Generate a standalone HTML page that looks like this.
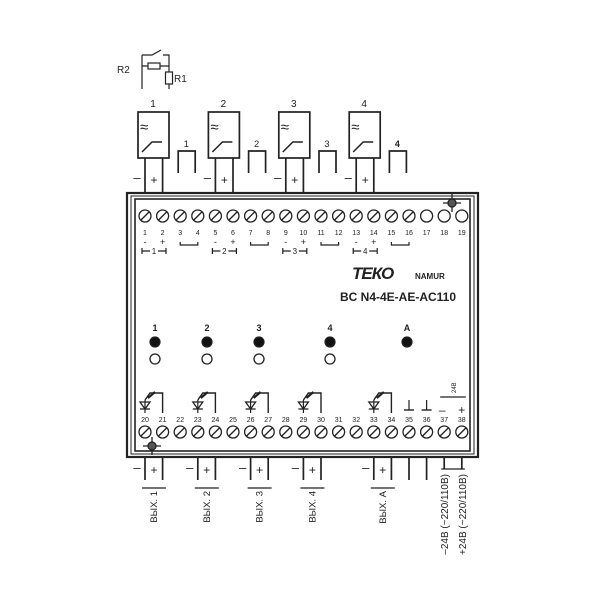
<!DOCTYPE html>
<html><head><meta charset="utf-8"><style>body{margin:0;background:#fff}svg{display:block}text{font-family:"Liberation Sans",sans-serif;fill:#222}</style></head><body>
<svg width="600" height="600" viewBox="0 0 600 600" xmlns="http://www.w3.org/2000/svg" stroke="#222" fill="none" stroke-width="1.2">
<g stroke-width="1.2">
<line x1="142" y1="55" x2="142" y2="89"/>
<polyline points="142,55 152,55 161,50"/>
<polyline points="163,55 169,55 169,66"/>
<line x1="142" y1="66" x2="169" y2="66"/>
<rect x="148" y="63" width="12" height="6" fill="#fff"/>
<line x1="169" y1="66" x2="169" y2="89"/>
<rect x="165.5" y="72" width="7" height="12" fill="#fff"/>
</g>
<text x="117" y="73" font-size="10" stroke="none">R2</text>
<text x="174" y="82" font-size="10" stroke="none">R1</text>
<rect x="127" y="193" width="351" height="264" stroke-width="2.2"/>
<rect x="131" y="196" width="343" height="258" stroke-width="1"/>
<rect x="135" y="199" width="335" height="252" stroke-width="1.6"/>
<script>
const S='http://www.w3.org/2000/svg';const svg=document.querySelector('svg');
function el(t,a,txt){const e=document.createElementNS(S,t);for(const k in a)e.setAttribute(k,a[k]);if(txt!==undefined)e.textContent=txt;svg.appendChild(e);return e;}
const tx=i=>145+17.6*i;
for(let s=0;s<4;s++){
 const x0=tx(s*4);
 el('rect',{x:x0-7,y:112,width:31,height:46,'stroke-width':1.7});
 el('text',{x:x0+8,y:107,'font-size':10,'text-anchor':'middle',stroke:'none'},String(s+1));
 el('text',{x:x0-5,y:132,'font-size':15,stroke:'none'},'≈');
 el('polyline',{points:`${x0-3},152 ${x0+7},142 ${x0+17},142`,'stroke-width':1.5});
 el('line',{x1:x0,y1:158,x2:x0,y2:193,'stroke-width':1.7});
 el('line',{x1:x0+17.6,y1:158,x2:x0+17.6,y2:193,'stroke-width':1.7});
 el('text',{x:x0-8,y:182,'font-size':13,'text-anchor':'middle',stroke:'none'},'–');
 el('text',{x:x0+9,y:184,'font-size':12,'text-anchor':'middle',stroke:'none'},'+');
 const bx=tx(s*4+2)-2;
 el('polyline',{points:`${bx},173 ${bx},151 ${bx+17},151 ${bx+17},173`,'stroke-width':1.7});
 el('text',{x:bx+8,y:147,'font-size':9,'text-anchor':'middle',stroke:'none','font-weight':s==3?'bold':'normal'},String(s+1));
 el('text',{x:x0,y:245,'font-size':9,'text-anchor':'middle',stroke:'none'},'-');
 el('text',{x:x0+17.6,y:245,'font-size':9,'text-anchor':'middle',stroke:'none'},'+');
 el('polyline',{points:`${tx(s*4+2)},242 ${tx(s*4+2)},245 ${tx(s*4+3)},245 ${tx(s*4+3)},242`});
 el('line',{x1:x0-3,y1:251,x2:x0+21,y2:251});
 el('line',{x1:x0-3,y1:248,x2:x0-3,y2:254});el('line',{x1:x0+21,y1:248,x2:x0+21,y2:254});
 el('rect',{x:x0+5,y:247,width:8,height:8,fill:'#fff',stroke:'none'});
 el('text',{x:x0+9,y:254,'font-size':8,'text-anchor':'middle',stroke:'none'},String(s+1));
}
for(let i=0;i<19;i++){const x=tx(i);
 el('circle',{cx:x,cy:216,r:6,'stroke-width':1.3});
 if(i<16)el('line',{x1:x-4,y1:220,x2:x+4,y2:212,'stroke-width':1.3});
 el('text',{x:x,y:235,'font-size':7,'text-anchor':'middle',stroke:'none'},String(i+1));
}
for(let i=0;i<19;i++){const x=tx(i);
 el('circle',{cx:x,cy:432,r:6,'stroke-width':1.3});
 el('line',{x1:x-4,y1:436,x2:x+4,y2:428,'stroke-width':1.3});
 el('text',{x:x,y:422,'font-size':7,'text-anchor':'middle',stroke:'none'},String(i+20));
}
[0,3,6,9,13].forEach(i=>{const x=tx(i);
 el('polygon',{points:`${x-5},402 ${x+5},402 ${x},409`,'stroke-width':1.3});
 el('line',{x1:x-5,y1:409,x2:x+5,y2:409,'stroke-width':1.3});
 el('line',{x1:x,y1:400,x2:x,y2:413});
 el('polyline',{points:`${x},400 ${x+5},393 ${x+17.6},393 ${x+17.6},413`,'stroke-width':1.4});
 el('line',{x1:x+3,y1:398,x2:x+10,y2:392,'stroke-width':2.2});
});
[15,16].forEach(i=>{const x=tx(i);
 el('line',{x1:x,y1:400,x2:x,y2:410});el('line',{x1:x-5,y1:410,x2:x+5,y2:410,'stroke-width':1.4});});
el('text',{x:tx(17)-2,y:414,'font-size':12,'text-anchor':'middle',stroke:'none'},'–');
el('text',{x:tx(18),y:414,'font-size':12,'text-anchor':'middle',stroke:'none'},'+');
el('line',{x1:tx(17)-4,y1:397,x2:tx(18)+4,y2:397});
el('text',{x:0,y:0,'font-size':6,stroke:'none',transform:`translate(${tx(17)+12},393) rotate(-90)`},'24В');
const pairs=[[0,'ВЫХ. 1'],[3,'ВЫХ. 2'],[6,'ВЫХ. 3'],[9,'ВЫХ. 4'],[13,'ВЫХ. А']];
pairs.forEach(([i,l])=>{const x=tx(i);
 el('line',{x1:x,y1:457,x2:x,y2:480,'stroke-width':1.7});
 el('line',{x1:x+17.6,y1:457,x2:x+17.6,y2:480,'stroke-width':1.7});
 el('text',{x:x-8,y:472,'font-size':13,'text-anchor':'middle',stroke:'none'},'–');
 el('text',{x:x+9,y:474,'font-size':12,'text-anchor':'middle',stroke:'none'},'+');
 el('line',{x1:x-3,y1:488,x2:x+21,y2:488});
 el('text',{x:0,y:0,'font-size':9.5,stroke:'none','text-anchor':'end',transform:`translate(${x+12},491) rotate(-90)`},l);
});
[15,16].forEach(i=>el('line',{x1:tx(i),y1:457,x2:tx(i),y2:480,'stroke-width':1.7}));
[17,18].forEach(i=>el('line',{x1:tx(i),y1:457,x2:tx(i),y2:469,'stroke-width':1.7}));
el('line',{x1:tx(17)-3,y1:469,x2:tx(18)+3,y2:469});
el('text',{x:0,y:0,'font-size':10,stroke:'none','text-anchor':'end',transform:`translate(${tx(17)+4},474) rotate(-90)`},'–24В (~220/110В)');
el('text',{x:0,y:0,'font-size':10,stroke:'none','text-anchor':'end',transform:`translate(${tx(18)+4},474) rotate(-90)`},'+24В (~220/110В)');
[[155,'1'],[207,'2'],[259,'3'],[330,'4'],[407,'A']].forEach(([x,l],k)=>{
 el('text',{x:x,y:331,'font-size':9,'font-weight':'bold','text-anchor':'middle',stroke:'none'},l);
 el('circle',{cx:x,cy:342,r:5,fill:'#111'});
 if(k<4)el('circle',{cx:x,cy:359,r:5,'stroke-width':1.3});
});
[[452,203],[152,446]].forEach(([x,y])=>{
 el('line',{x1:x-9,y1:y,x2:x+9,y2:y,'stroke-width':1.3});el('line',{x1:x,y1:y-9,x2:x,y2:y+9,'stroke-width':1.3});
 el('circle',{cx:x,cy:y,r:4,fill:'#555','stroke-width':1.3});});
</script>
<text x="352" y="279" font-size="17" font-weight="bold" stroke="none" letter-spacing="-1" font-style="italic">ТЕКО</text>
<text x="415" y="279" font-size="8" font-weight="bold" stroke="none">NAMUR</text>
<text x="340" y="301" font-size="12" font-weight="bold" stroke="none">BC N4-4E-AE-AC110</text>
</svg>
</body></html>
